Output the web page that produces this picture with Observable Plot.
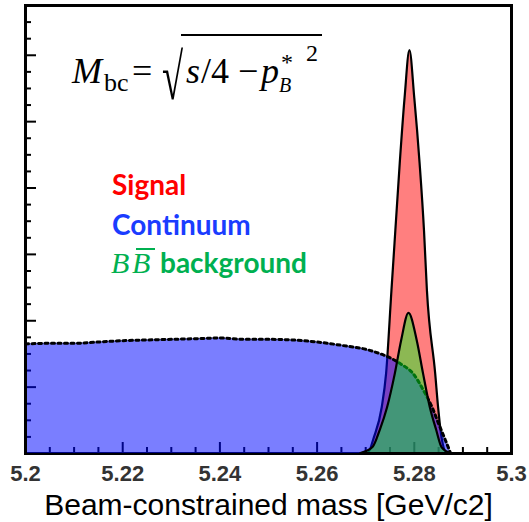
<!DOCTYPE html>
<html>
<head>
<meta charset="utf-8">
<script src="https://cdn.jsdelivr.net/npm/d3@7"></script>
<script src="https://cdn.jsdelivr.net/npm/@observablehq/plot@0.6"></script>
<style>
  html, body { margin: 0; padding: 0; background: white; }
</style>
</head>
<body>
<div id="chart"></div>
<script>
// ---- data ----
const xMajorTicks = [5.2, 5.22, 5.24, 5.26, 5.28, 5.3];
const xTickLabels = ["5.2", "5.22", "5.24", "5.26", "5.28", "5.3"];
const xMinorTicks = [5.205, 5.21, 5.215, 5.225, 5.23, 5.235, 5.245, 5.25, 5.255, 5.265, 5.27, 5.275, 5.285, 5.29, 5.295];
const yMajorTicks = [100, 200, 300, 400, 500, 600];
const yMinorTicks = [25, 50, 75, 125, 150, 175, 225, 250, 275, 325, 350, 375, 425, 450, 475, 525, 550, 575, 625, 650];

const signalX = [5.2, 5.268, 5.2705, 5.2718, 5.2734, 5.2743, 5.2754, 5.2762, 5.2771, 5.2781, 5.2791, 5.2801, 5.2812, 5.2821, 5.2827, 5.2844, 5.2850, 5.2857, 5.2868, 5.3];
const signalY = [0, 0, 0, 24, 69, 120, 245, 335, 436, 535, 607, 535, 436, 335, 245, 120, 69, 24, 0, 0];

const contX = [5.2, 5.205, 5.21, 5.215, 5.22, 5.225, 5.23, 5.235, 5.24, 5.245, 5.25, 5.255, 5.26, 5.265, 5.271, 5.2772, 5.2798, 5.2819, 5.2837, 5.285, 5.2864, 5.2875];
const contY = [165, 166, 166, 168, 170, 171, 172, 173, 174, 172, 172, 171, 168, 163, 155, 135, 120, 95, 69, 45, 20, 0];

const bbX = [5.269, 5.2715, 5.2730, 5.2745, 5.2761, 5.2774, 5.2789, 5.2806, 5.2819, 5.2833, 5.2846, 5.2857, 5.2875];
const bbY = [0, 9, 35, 69, 120, 170, 211, 170, 120, 69, 35, 9, 0];

const xLabel = "Beam-constrained mass [GeV/c2]";
const legendLabels = ["Signal", "Continuum", "background"];

// ---- tables ----
const signal = signalX.map((x, i) => ({x, y: signalY[i]}));
const cont = contX.map((x, i) => ({x, y: contY[i]}));
const bb = bbX.map((x, i) => ({x, y: bbY[i]}));

const W = 529, H = 522, mT = 5, mB = 69, mL = 25, mR = 18;
const frameW = W - mL - mR, frameH = H - mT - mB;

const plot = Plot.plot({
  width: W,
  height: H,
  marginTop: mT,
  marginBottom: mB,
  marginLeft: mL,
  marginRight: mR,
  style: {background: "white", color: "black"},
  x: {domain: [5.2, 5.3], axis: null},
  y: {domain: [0, 675], axis: null},
  marks: [
    // inward ticks (drawn first, under the filled areas)
    Plot.ruleX(xMinorTicks, {x: d => d, insetTop: frameH - 6, stroke: "black", strokeWidth: 2}),
    Plot.ruleX(xMajorTicks, {x: d => d, insetTop: frameH - 11, stroke: "black", strokeWidth: 2}),
    Plot.ruleY(yMinorTicks, {y: d => d, insetRight: frameW - 6, stroke: "black", strokeWidth: 2}),
    Plot.ruleY(yMajorTicks, {y: d => d, insetRight: frameW - 11, stroke: "black", strokeWidth: 2}),
    Plot.frame({stroke: "black", strokeWidth: 3}),
    Plot.text(xMajorTicks, {
      x: d => d, frameAnchor: "bottom", dy: 12, lineAnchor: "top",
      text: d => xTickLabels[xMajorTicks.indexOf(d)],
      fontSize: 22, fontWeight: "bold", fill: "#333", fontFamily: "Liberation Sans"
    }),
    Plot.areaY(signal, {x: "x", y: "y", fill: "#ff0000", fillOpacity: 0.5, stroke: "black", strokeWidth: 2.2, curve: "monotone-x"}),
    Plot.areaY(cont, {x: "x", y: "y", fill: "#0008ff", fillOpacity: 0.52, curve: "monotone-x"}),
    Plot.lineY(cont, {x: "x", y: "y", stroke: "black", strokeWidth: 3, strokeDasharray: "3,3.5", curve: "monotone-x"}),
    Plot.areaY(bb, {x: "x", y: "y", fill: "#00ff1e", fillOpacity: 0.45, stroke: "black", strokeWidth: 2.2, curve: "monotone-x"}),
    Plot.ruleX([5.2], {x: d => d, stroke: "black", strokeWidth: 3}),
    Plot.text([xLabel], {frameAnchor: "bottom", dy: 52, lineAnchor: "middle", fontSize: 30, fontFamily: "Liberation Sans", fill: "black"})
  ]
});

document.getElementById("chart").appendChild(plot);

// ---- annotations: formula and legend ----
const svg = d3.select(plot);
const ann = svg.append("g").attr("fill", "black").attr("text-anchor", "start");
const serif = "Liberation Serif";
function t(x, y, s, size, opts = {}) {
  const e = ann.append("text").attr("x", x).attr("y", y).attr("font-size", size)
    .attr("text-anchor", "start")
    .attr("font-family", opts.family || serif).text(s);
  if (opts.italic) e.attr("font-style", "italic");
  if (opts.weight) e.attr("font-weight", opts.weight);
  if (opts.fill) e.attr("fill", opts.fill);
  return e;
}
// M_bc = sqrt(s/4 - p_B^*^2)
t(72, 83, "M", 36, {italic: true});
t(104, 91, "bc", 26);
t(132, 83, "=", 36);
// radical sign, narrowed horizontally
ann.append("text").attr("transform", "translate(162,99) scale(0.62,1.05)")
  .attr("font-family", serif).attr("font-size", 62).attr("text-anchor", "start").text("\u221A");
ann.append("line").attr("x1", 181).attr("x2", 322).attr("y1", 35).attr("y2", 35).attr("stroke", "black").attr("stroke-width", 2);
t(186, 83, "s", 36, {italic: true});
t(201, 83, "/4", 36);
t(238, 83, "\u2212", 36);
t(261, 83, "p", 36, {italic: true});
t(281, 70, "*", 24);
t(279, 92, "B", 20, {italic: true});
t(306, 61, "2", 24);

// legend
const sans = "Lato";
t(112, 195, legendLabels[0], 28, {family: sans, weight: "bold", fill: "#ff0000"});
t(112, 235, legendLabels[1], 28, {family: sans, weight: "bold", fill: "#1a3cff"});
t(111, 273, "B", 30, {italic: true, fill: "#00b050"});
t(132, 273, "B", 30, {italic: true, fill: "#00b050"});
ann.append("line").attr("x1", 136).attr("x2", 155).attr("y1", 249).attr("y2", 249).attr("stroke", "#00b050").attr("stroke-width", 2);
t(160, 273, legendLabels[2], 28, {family: sans, weight: "bold", fill: "#00b050"});
</script>
</body>
</html>
